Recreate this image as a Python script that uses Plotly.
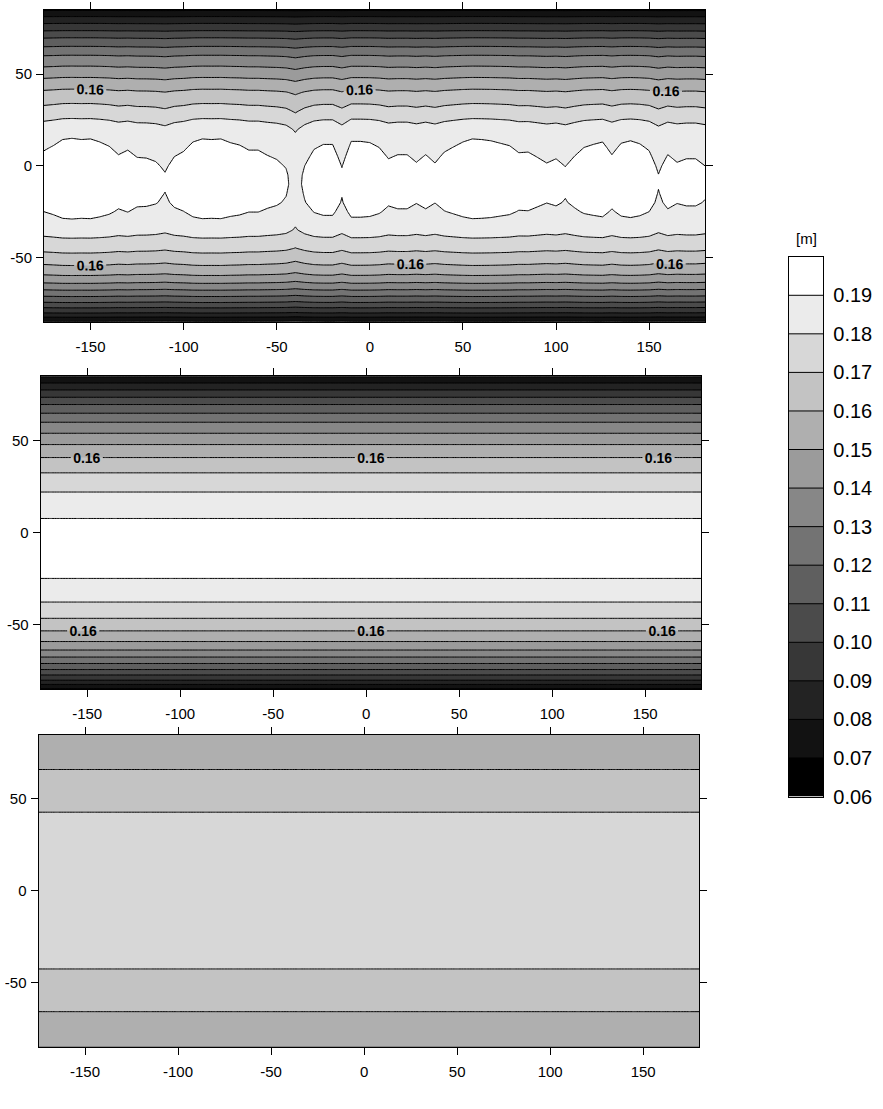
import plotly.graph_objects as go

W, H = 883, 1109

# grid (degrees)
lons = list(range(-175, 181, 5))
lats = list(range(-85, 86, 5))

# contour levels [m] and colour-bar labels
levels = [0.07, 0.08, 0.09, 0.10, 0.11, 0.12, 0.13, 0.14, 0.15, 0.16, 0.17, 0.18, 0.19]
labelled_level = 0.16
scale_bounds = [0.06, 0.20]
scale_ticks = [0.06, 0.07, 0.08, 0.09, 0.10, 0.11, 0.12, 0.13, 0.14, 0.15, 0.16, 0.17, 0.18, 0.19]
band_grays = [0, 18, 35, 55, 75, 95, 115, 135, 155, 175, 195, 215, 235, 255]

x_ticks = [-150, -100, -50, 0, 50, 100, 150]
y_ticks = [-50, 0, 50]

# top panel: zonal profile (south -> north) plus a longitude-dependent anomaly
profile_top = [0.0690, 0.0907, 0.1081, 0.1233, 0.1372, 0.1489, 0.1582, 0.1656, 0.1727,
               0.1781, 0.1840, 0.1875, 0.1900, 0.1919, 0.1928, 0.1935, 0.1932, 0.1922,
               0.1909, 0.1895, 0.1880, 0.1849, 0.1792, 0.1734, 0.1676, 0.1617, 0.1543,
               0.1463, 0.1383, 0.1300, 0.1198, 0.1092, 0.0963, 0.0839, 0.0690]
anomaly_weight = [0.10, 0.15, 0.20, 0.25, 0.30, 0.35, 0.40, 0.45, 0.50, 0.60, 0.80, 1.0,
                  1.0, 1.0, 1.0, 1.0, 1.0, 1.0, 1.0, 1.0, 1.0, 1.0, 0.90, 0.75, 0.60,
                  0.50, 0.45, 0.40, 0.35, 0.30, 0.25, 0.20, 0.15, 0.10, 0.05]
lon_anomaly = [0.0000, 0.0008, 0.0018, 0.0020, 0.0018, 0.0019, 0.0014, 0.0007, -0.0006,
               0.0001, -0.0010, -0.0011, -0.0016, -0.0029, -0.0009, -0.0001, 0.0014,
               0.0019, 0.0018, 0.0019, 0.0013, 0.0009, 0.0001, 0.0001, -0.0007, -0.0013,
               -0.0025, -0.0060, -0.0022, 0.0002, 0.0010, 0.0010, -0.0024, 0.0015, 0.0015,
               0.0013, 0.0005, -0.0012, -0.0006, -0.0006, -0.0017, -0.0006, -0.0018,
               -0.0002, 0.0006, 0.0014, 0.0019, 0.0018, 0.0016, 0.0012, 0.0008, -0.0003,
               -0.0002, -0.0010, -0.0018, -0.0012, -0.0023, -0.0008, 0.0005, 0.0010,
               0.0014, -0.0006, 0.0012, 0.0016, 0.0011, 0.0000, -0.0031, -0.0006, -0.0017,
               -0.0012, -0.0012, -0.0022]

# middle panel: zonally uniform profile (south -> north)
profile_mid = [0.0690, 0.0907, 0.1081, 0.1233, 0.1372, 0.1485, 0.1574, 0.1653, 0.1721,
               0.1778, 0.1826, 0.1861, 0.18995, 0.1918, 0.1932, 0.1938, 0.1935, 0.1928,
               0.1919, 0.1884, 0.1851, 0.1817, 0.1776, 0.1727, 0.1673, 0.1611, 0.1543,
               0.1468, 0.1383, 0.1300, 0.1198, 0.1092, 0.0963, 0.0839, 0.0690]

# bottom panel: zonally uniform profile (south -> north)
profile_bottom = [0.1535, 0.1550, 0.1567, 0.1584, 0.1604, 0.1625, 0.1648, 0.1669, 0.1690,
                  0.1712, 0.1726, 0.1738, 0.1748, 0.1756, 0.1762, 0.1766, 0.1769, 0.1770,
                  0.1769, 0.1766, 0.1762, 0.1756, 0.1748, 0.1738, 0.1726, 0.1712, 0.1690,
                  0.1669, 0.1648, 0.1625, 0.1604, 0.1584, 0.1567, 0.1550, 0.1535]

z_top = [[p + a * w for a in lon_anomaly] for p, w in zip(profile_top, anomaly_weight)]
z_mid = [[p for _ in lons] for p in profile_mid]
z_bottom = [[p for _ in lons] for p in profile_bottom]

step = round(levels[1] - levels[0], 4)
gray_scale = [[k / (len(band_grays) - 1), f"rgb({g},{g},{g})"] for k, g in enumerate(band_grays)]

FONT = "Liberation Sans, Arial, Helvetica, sans-serif"
LINE = dict(color="black", width=1, smoothing=0)


def fill_trace(z, n, lines):
    return go.Contour(
        x=lons, y=lats, z=z, xaxis=f"x{n}", yaxis=f"y{n}",
        autocontour=False,
        contours=dict(start=levels[0], end=levels[-1], size=step,
                      coloring="fill", showlines=lines),
        colorscale=gray_scale, showscale=False, line=LINE, hoverinfo="skip",
    )


def line_trace(z, n, lo, hi):
    return go.Contour(
        x=lons, y=lats, z=z, xaxis=f"x{n}", yaxis=f"y{n}",
        autocontour=False,
        contours=dict(start=lo, end=hi, size=step, coloring="none", showlabels=False),
        showscale=False, line=LINE, hoverinfo="skip",
    )


def label_trace(z, n):
    # only the labelled level lies inside the data range; the extra empty
    # levels above it tighten plotly's spacing between labels on that line
    wide = 0.1
    return go.Contour(
        x=lons, y=lats, z=z, xaxis=f"x{n}", yaxis=f"y{n}",
        autocontour=False,
        contours=dict(start=labelled_level, end=labelled_level + 44 * wide, size=wide,
                      coloring="none", showlabels=True, labelformat=".2f",
                      labelfont=dict(family=FONT, size=14, color="black", weight="bold")),
        showscale=False, line=LINE, hoverinfo="skip",
    )


below = [v for v in levels if v < labelled_level]
above = [v for v in levels if v > labelled_level]

traces = []
for n, z in ((1, z_top), (2, z_mid)):
    traces.append(fill_trace(z, n, False))
    traces.append(line_trace(z, n, below[0], below[-1]))
    traces.append(line_trace(z, n, above[0], above[-1]))
    traces.append(label_trace(z, n))
traces.append(fill_trace(z_bottom, 3, True))

# colour bar drawn as a contour strip on its own axes
traces.append(go.Contour(
    x=[0, 1], y=scale_bounds,
    z=[[scale_bounds[0], scale_bounds[0]], [scale_bounds[1], scale_bounds[1]]],
    xaxis="x4", yaxis="y4", autocontour=False,
    contours=dict(start=levels[0], end=levels[-1], size=step, coloring="fill", showlines=True),
    colorscale=gray_scale, showscale=False, line=LINE, hoverinfo="skip",
))

fig = go.Figure(traces)


def dom_x(a, b):
    return [a / W, b / W]


def dom_y(top, bottom):
    return [1 - bottom / H, 1 - top / H]


panels = {
    1: ((44, 705), (10, 325)),
    2: ((40.7, 701), (380, 696)),
    3: ((38.5, 699), (742, 1057)),
}

axis_common = dict(
    showgrid=False, zeroline=False, showline=True, linecolor="black", linewidth=1,
    mirror="ticks", ticks="outside", ticklen=7, tickwidth=1, tickcolor="black",
    tickfont=dict(family=FONT, size=15, color="black"),
)

layout = dict(
    width=W, height=H, autosize=False,
    margin=dict(l=0, r=0, t=0, b=0),
    paper_bgcolor="white", plot_bgcolor="white",
    showlegend=False,
)

for n, ((x0, x1), (y0, y1)) in panels.items():
    layout[f"xaxis{n}"] = dict(
        axis_common, domain=dom_x(x0, x1), range=[lons[0], lons[-1]], anchor=f"y{n}",
        tickmode="array", tickvals=x_ticks, ticktext=[str(v) for v in x_ticks],
        ticklabelstandoff=4,
    )
    layout[f"yaxis{n}"] = dict(
        axis_common, domain=dom_y(y0, y1), range=[lats[0], lats[-1]], anchor=f"x{n}",
        tickmode="array", tickvals=y_ticks, ticktext=[str(v) for v in y_ticks],
        ticklabelstandoff=1,
    )

layout["xaxis4"] = dict(
    domain=dom_x(789, 823.3), range=[0, 1], anchor="y4",
    showgrid=False, zeroline=False, showline=True, linecolor="black", linewidth=1,
    mirror=True, ticks="", showticklabels=False,
)
layout["yaxis4"] = dict(
    domain=dom_y(259.3, 804.5), range=scale_bounds, anchor="x4", side="right",
    showgrid=False, zeroline=False, showline=True, linecolor="black", linewidth=1,
    mirror=True, ticks="", tickmode="array", tickvals=scale_ticks,
    ticktext=[f"{v:.2f}" for v in scale_ticks], ticklabelstandoff=5,
    tickfont=dict(family=FONT, size=20, color="black"),
)

layout["annotations"] = [dict(
    text="[m]", x=806 / W, y=1 - 241 / H, xref="paper", yref="paper",
    showarrow=False, xanchor="center", yanchor="middle",
    font=dict(family=FONT, size=15, color="black"),
)]

fig.update_layout(**layout)
fig.write_html("out.html")
